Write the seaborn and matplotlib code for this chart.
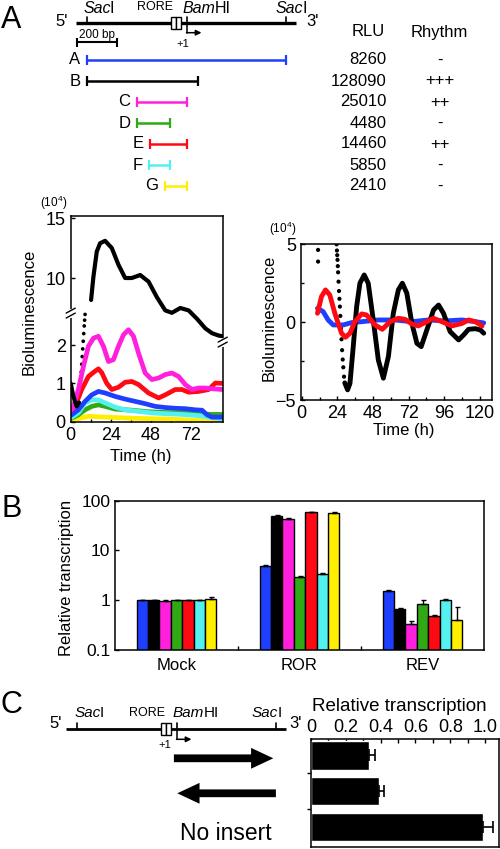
import numpy as np
import pandas as pd
import matplotlib
matplotlib.use('Agg')
import matplotlib.pyplot as plt
import seaborn as sns
from matplotlib.patches import Rectangle
from matplotlib.ticker import MultipleLocator, NullLocator, FixedLocator

sns.set_style('ticks')
plt.rcParams['font.family'] = ['Liberation Sans', 'DejaVu Sans']
plt.rcParams['mathtext.fontset'] = 'custom'
plt.rcParams['mathtext.rm'] = 'Liberation Sans'
for k in ['axes.edgecolor', 'axes.labelcolor', 'text.color', 'xtick.color', 'ytick.color']:
    plt.rcParams[k] = 'black'
plt.rcParams['xtick.direction'] = 'in'
plt.rcParams['ytick.direction'] = 'in'
plt.rcParams['axes.linewidth'] = 1.1

# ---- panel A: constructs (bp from 5' SacI site) ----
constructs = ['A', 'B', 'C', 'D', 'E', 'F', 'G']
colors = ['#1f3fff', '#000000', '#ff1fdc', '#2faa14', '#ff0a14', '#55f0f0', '#ffee00']
frag_start = [0, 0, 250, 250, 315, 310, 390]
frag_end = [995, 555, 500, 415, 500, 415, 500]
rlu = [8260, 128090, 25010, 4480, 14460, 5850, 2410]
rhythm = ['-', '+++', '++', '-', '++', '-', '-']

map_extent = [-56, 1043]
saci_sites = [0, 995]
bamhi_site = 496
rore_box = [420, 468]

# ---- panel A: raw bioluminescence (x10^4) ----
mag_t = [0, 1.6, 4.6, 7.6, 10.6, 13.6, 16.6, 19.6, 22.6, 25.6, 28.6, 31.6, 34.6, 37.6, 40.6,
         44.6, 48.6, 52.6, 56.6, 60.6, 64.6, 68.6, 72.6, 76.6, 80.6, 84.6, 91]
mag_v = [0.31, 0.4, 0.84, 1.44, 1.97, 2.18, 2.23, 1.97, 1.57, 1.62, 1.97, 2.27, 2.4, 2.23, 1.79,
         1.27, 1.1, 1.14, 1.23, 1.27, 1.18, 0.97, 0.84, 0.88, 0.88, 0.86, 0.84]
red_t = [0, 2.6, 6.6, 10.6, 14.6, 16.6, 18.6, 21.6, 24.6, 28.6, 32.6, 36.6, 40.6, 46.6, 52.6,
         56.6, 62.6, 66.6, 70.6, 76.6, 82.6, 86.6, 91]
red_v = [0.31, 0.4, 0.84, 1.18, 1.32, 1.38, 1.28, 1.0, 0.84, 0.9, 1.03, 1.05, 0.97, 0.75, 0.62,
         0.7, 0.84, 0.84, 0.77, 0.79, 0.84, 1.01, 1.0]
blue_t = [0, 4.6, 8.6, 12.6, 16.6, 20.6, 26.6, 32.6, 38.6, 44.6, 50.6, 56.6, 62.6, 68.6, 74.6,
          78.6, 81.6, 84.6, 91]
blue_v = [0.16, 0.31, 0.53, 0.7, 0.79, 0.75, 0.66, 0.59, 0.53, 0.47, 0.4, 0.37, 0.35, 0.34, 0.31,
          0.3, 0.18, 0.12, 0.12]
cyan_t = [0, 4.6, 8.6, 12.6, 16.6, 20.6, 26.6, 32.6, 40.6, 48.6, 56.6, 66.6, 76.6, 82.6, 91]
cyan_v = [0.1, 0.23, 0.49, 0.57, 0.57, 0.49, 0.38, 0.31, 0.27, 0.23, 0.21, 0.19, 0.16, 0.12, 0.07]
green_t = [0, 4.6, 8.6, 12.6, 16.6, 20.6, 26.6, 36.6, 46.6, 56.6, 66.6, 76.6, 84.6, 91]
green_v = [0.08, 0.18, 0.31, 0.4, 0.44, 0.4, 0.33, 0.3, 0.26, 0.24, 0.23, 0.21, 0.19, 0.19]
yel_t = [0, 4.6, 10.6, 20.6, 36.6, 56.6, 68.6, 76.6, 91]
yel_v = [0.03, 0.08, 0.14, 0.12, 0.09, 0.07, 0.05, 0.03, 0.03]
blk_lo_t = [0, 1.6, 3.6, 5.0]
blk_lo_v = [1.0, 0.66, 0.4, 0.5]
blk_dot_t = [5.4, 5.7, 6.0, 6.3, 6.6, 6.9, 7.2, 7.5, 7.8, 8.1, 8.35, 8.6]
blk_dot_v = [0.7, 0.9, 1.1, 1.3, 1.5, 1.7, 1.9, 2.1, 2.3, 2.5, 2.65, 2.8]
blk_hi_t = [12.2, 13.6, 15.6, 17.6, 20.6, 24.6, 28.6, 32.6, 36.6, 41.6, 46.6, 51.6, 56.6, 60.6,
            65.6, 70.6, 75.6, 80.6, 84.6, 88.6, 91]
blk_hi_v = [8.17, 10.1, 12.2, 12.9, 13.1, 12.5, 11.1, 10.0, 10.0, 10.25, 9.7, 8.4, 7.3, 7.1,
            7.5, 7.3, 6.6, 5.8, 5.4, 5.2, 5.15]

# ---- panel A: detrended bioluminescence (x10^4) ----
blk_r_t = [29.0, 30.9, 32.5, 34.7, 37.0, 39.2, 42.1, 44.8, 48.2, 51.6, 55.0, 58.4, 61.7, 65.1,
           67.8, 70.8, 74.2, 77.6, 80.5, 84.3, 88.8, 92.2, 95.5, 100.0, 105.7, 109.1, 112.4,
           117.0, 120.4, 122.6]
blk_r_v = [-3.9, -4.35, -3.93, -1.57, 1.0, 2.5, 3.03, 2.5, 0.14, -2.43, -3.6, -2.2, 0.57, 2.07,
           2.5, 1.86, -0.07, -1.36, -1.57, -0.5, 0.78, 1.1, 0.57, -0.61, -1.14, -0.82, -0.46,
           -0.42, -0.5, -0.71]
blk_rdot_t = [11.0, 11.0, 23.5, 23.7, 23.9, 24.1, 24.3, 24.5, 24.8, 25.1, 25.4, 25.7, 26.0, 26.4,
              26.8, 27.2, 27.6, 28.0, 28.5]
blk_rdot_v = [4.64, 3.89, 5.0, 4.6, 4.3, 4.0, 3.6, 3.2, 2.6, 2.0, 1.5, 1.0, 0.4, -0.4,
              -1.1, -1.8, -2.4, -2.9, -3.5]
red_r_t = [10.6, 13.3, 16.0, 18.9, 22.3, 26.8, 29.5, 32.5, 35.8, 40.4, 43.7, 49.4, 54.3, 59.5,
           65.1, 69.6, 74.2, 78.6, 84.3, 88.8, 94.4, 101.2, 108.0, 112.4, 117.0, 121.5]
red_r_v = [0.57, 1.64, 2.07, 1.75, 0.57, -0.71, -0.97, -0.71, 0.03, 0.53, 0.46, -0.18, -0.46,
           0.03, 0.25, 0.18, -0.12, -0.24, 0.03, 0.25, 0.03, -0.24, -0.08, 0.14, 0.03, -0.24]
blue_r_t = [10.6, 14.4, 17.8, 21.2, 27.9, 33.6, 40.4, 51.6, 62.9, 74.2, 85.4, 96.7, 108.0,
            117.0, 122.6]
blue_r_v = [0.89, 0.68, 0.14, -0.18, -0.18, -0.03, 0.03, 0.14, 0.14, 0.03, 0.14, 0.08, 0.14,
            0.03, -0.05]

# ---- panel B ----
conditions = ['Mock', 'ROR', 'REV']
mock_vals = [1.0, 1.0, 0.98, 1.0, 1.0, 1.0, 1.07]
ror_vals = [4.95, 49, 43.5, 2.88, 58, 3.37, 56.6]
rev_vals = [1.56, 0.68, 0.34, 0.84, 0.48, 1.0, 0.40]
mock_err = [0.02, 0.02, 0.01, 0.02, 0.01, 0.02, 0.07]
ror_err = [0.2, 2, 1, 0.25, 1.5, 0.15, 2]
rev_err = [0.03, 0.02, 0.04, 0.15, 0.03, 0.05, 0.32]

# ---- panel C ----
inserts = ['forward', 'reverse', 'No insert']
rel_tx = [0.335, 0.39, 0.99]
rel_err = [0.035, 0.032, 0.055]
fwd_arrow = [483, 980]
rev_arrow = [993, 500]

W, H = 500, 849
fig = plt.figure(figsize=(W / 100, H / 100), dpi=100)


def add_ax(l, t, r, b):
    return fig.add_axes([l / W, 1 - b / H, (r - l) / W, (b - t) / H])


def site_label(ax, x, y, ital, rest, size=11.5):
    # italic enzyme prefix followed by upright suffix
    t = ax.text(x, y, ital, ha='left', va='bottom', fontsize=size, fontstyle='italic')
    ax.annotate(rest, xy=(1, 0), xycoords=t, xytext=(-0.5, 0), textcoords='offset points',
                ha='left', va='bottom', fontsize=size)


def draw_map(ax, y, lw):
    ax.plot(map_extent, [y, y], color='black', lw=lw, solid_capstyle='butt')
    for s in saci_sites:
        ax.plot([s, s], [y, y - 6], color='black', lw=1.2)
    ax.plot([bamhi_site, bamhi_site], [y, y - 6], color='black', lw=1.2)
    half = (rore_box[1] - rore_box[0]) / 2
    for k in range(2):
        ax.add_patch(Rectangle((rore_box[0] + k * half, y - 6), half, 12, fc='white',
                               ec='black', lw=1, zorder=3))
    ax.plot([bamhi_site, bamhi_site], [y, y + 10], color='black', lw=1.1)
    ax.annotate('', xy=(bamhi_site + 75, y + 10), xytext=(bamhi_site, y + 10),
                arrowprops=dict(arrowstyle='-|>', lw=1.1, color='black', mutation_scale=8,
                                shrinkA=0, shrinkB=0))


# ===== panel A diagram =====
axA = add_ax(0, 0, 500, 200)
axA.set_xlim((0 - 87.3) * 5, (500 - 87.3) * 5)
axA.set_ylim(200, 0)
axA.axis('off')
draw_map(axA, 22.7, 2.4)
axA.text(-127, 21.7, "5'", ha='center', va='center', fontsize=12)
axA.text(1128, 21.7, "3'", ha='center', va='center', fontsize=12)
site_label(axA, -21, 16, 'Sac', 'I')
site_label(axA, 943, 16, 'Sac', 'I')
site_label(axA, 478, 16, 'Bam', 'HI')
axA.text(338, 6.5, 'RORE', ha='center', va='center', fontsize=9)
axA.text(477, 44.3, '+1', ha='center', va='center', fontsize=8)
axA.hlines(42.3, -50, 150, color='black', lw=1.5)
axA.vlines([-50, 150], 37.8, 46.8, color='black', lw=1.5)
axA.text(50, 35, '200 bp', ha='center', va='center', fontsize=8.5)
axA.text(1403, 32, 'RLU', ha='center', va='center', fontsize=12)
axA.text(1761, 32, 'Rhythm', ha='center', va='center', fontsize=12)
for i, name in enumerate(constructs):
    y = 60 + 21 * i
    axA.hlines(y, frag_start[i], frag_end[i], color=colors[i], lw=1.8)
    axA.vlines([frag_start[i], frag_end[i]], y - 5, y + 5, color=colors[i], lw=1.6)
    axA.text(frag_start[i] - 35, y, name, ha='right', va='center', fontsize=12)
    axA.text(1497, y, str(rlu[i]), ha='right', va='center', fontsize=12)
    axA.text(1761, y, rhythm[i], ha='center', va='center', fontsize=12)

# ===== panel A raw traces =====
ax_lo = add_ax(70.7, 216, 222.7, 421.7)
ax_hi = add_ax(70.7, 216, 222.7, 421.7)
lo_series = [(yel_t, yel_v, colors[6]), (green_t, green_v, colors[3]), (cyan_t, cyan_v, colors[5]),
             (blue_t, blue_v, colors[0]), (red_t, red_v, colors[4]), (mag_t, mag_v, colors[2])]
for t, v, c in lo_series:
    sns.lineplot(x=t, y=v, color=c, lw=3.4, ax=ax_lo, estimator=None)
sns.lineplot(x=blk_lo_t, y=blk_lo_v, color='black', lw=3.0, ax=ax_lo, estimator=None)
sns.scatterplot(x=blk_dot_t, y=blk_dot_v, color='black', s=7, edgecolor='none', ax=ax_lo)
ax_lo.set_xlim(0, 91)
ax_lo.set_ylim(0, 5.37)
ax_lo.set_yticks([0, 1, 2])
ax_lo.set_xticks([0, 24, 48, 72])
ax_lo.xaxis.set_minor_locator(FixedLocator([12, 36, 60, 84]))
ax_lo.tick_params(labelsize=13, length=3, width=1)
ax_lo.tick_params(which='minor', length=2, width=1)
ax_lo.set_xlabel('Time (h)', fontsize=12)
ax_lo.set_ylabel('Bioluminescence', fontsize=12)
ax_lo.xaxis.set_label_coords(0.461, -0.135)
ax_lo.yaxis.set_label_coords(-0.222, 0.535)

sns.lineplot(x=blk_hi_t, y=blk_hi_v, color='black', lw=3.0, ax=ax_hi, estimator=None)
ax_hi.set_xlim(0, 91)
ax_hi.set_ylim(-1.98, 15.17)
ax_hi.set_yticks([10, 15])
ax_hi.tick_params(labelsize=13, length=3, width=1)
ax_hi.set_frame_on(False)
ax_hi.patch.set_visible(False)
ax_hi.xaxis.set_visible(False)
ax_hi.set_ylabel('')
ax_hi.set_xlabel('')


def break_mark(ax, x, y):
    g, dx, dy = 0.012, 0.03, 0.012
    ax.plot([x, x], [y - g, y + g], transform=ax.transAxes, color='white', lw=3,
            clip_on=False, zorder=10)
    for yy in (y - g, y + g):
        ax.plot([x - dx, x + dx], [yy - dy, yy + dy], transform=ax.transAxes, color='black',
                lw=1, clip_on=False, zorder=11)


break_mark(ax_lo, 0, 0.528)
break_mark(ax_lo, 1, 0.387)
fig.text(53.5 / W, 1 - 203 / H, '(10$^4$)', ha='center', va='center', fontsize=8.5)

# ===== panel A detrended traces =====
ax_r = add_ax(300.7, 244.3, 491.7, 400)
sns.lineplot(x=blue_r_t, y=blue_r_v, color=colors[0], lw=3.5, ax=ax_r, estimator=None)
sns.lineplot(x=blk_r_t, y=blk_r_v, color='black', lw=3.5, ax=ax_r, estimator=None)
sns.scatterplot(x=blk_rdot_t, y=blk_rdot_v, color='black', s=9, edgecolor='none', ax=ax_r)
sns.lineplot(x=red_r_t, y=red_r_v, color=colors[4], lw=3.5, ax=ax_r, estimator=None)
ax_r.set_xlim(-0.7, 128)
ax_r.set_ylim(-5, 5)
ax_r.set_yticks([-5, 0, 5])
ax_r.set_xticks([0, 24, 48, 72, 96, 120])
ax_r.xaxis.set_minor_locator(FixedLocator([12, 36, 60, 84, 108]))
ax_r.yaxis.set_minor_locator(FixedLocator([-2.5, 2.5]))
ax_r.tick_params(labelsize=13, length=3, width=1)
ax_r.tick_params(which='minor', length=2, width=1)
ax_r.set_xlabel('Time (h)', fontsize=12)
ax_r.set_ylabel('Bioluminescence', fontsize=12)
ax_r.xaxis.set_label_coords(0.54, -0.145)
ax_r.yaxis.set_label_coords(-0.124, 0.527)
fig.text(283 / W, 1 - 229 / H, '(10$^4$)', ha='center', va='center', fontsize=8.5)

# ===== panel B =====
dfB = pd.DataFrame({
    'condition': np.repeat(conditions, len(constructs)),
    'construct': constructs * len(conditions),
    'value': mock_vals + ror_vals + rev_vals,
    'err': mock_err + ror_err + rev_err,
})
axB = add_ax(115, 500.7, 484, 650)
sns.barplot(data=dfB, x='condition', y='value', hue='construct', order=conditions,
            hue_order=constructs, palette=colors, saturation=1, width=0.65, gap=0,
            edgecolor='black', linewidth=1, errorbar=None, legend=False, ax=axB)
axB.set_yscale('log')
axB.set_ylim(0.1, 100)
bars = sorted(axB.patches, key=lambda p: p.get_x())
bx = [p.get_x() + p.get_width() / 2 for p in bars]
bh = [p.get_height() for p in bars]
axB.errorbar(bx, bh, yerr=[np.zeros(len(bh)), dfB['err'].values], fmt='none',
             ecolor='black', elinewidth=1, capsize=1.8, capthick=1)
axB.set_yticks([0.1, 1, 10, 100])
axB.set_yticklabels(['0.1', '1', '10', '100'])
axB.yaxis.set_minor_locator(NullLocator())
axB.xaxis.set_minor_locator(FixedLocator([0.5, 1.5]))
axB.tick_params(axis='x', which='major', length=0, labelsize=12, pad=6)
axB.tick_params(axis='x', which='minor', length=3, width=1)
axB.tick_params(axis='y', labelsize=12.5, length=3, width=1)
axB.set_xlim(-0.5, 2.5)
axB.set_xlabel('')
axB.set_ylabel('Relative transcription', fontsize=12)
axB.yaxis.set_label_coords(-0.112, 0.482)

# ===== panel C map =====
axCm = add_ax(0, 680, 310, 849)
axCm.set_xlim((0 - 77.3) * 5, (310 - 77.3) * 5)
axCm.set_ylim(849, 680)
axCm.axis('off')
draw_map(axCm, 729.3, 2.0)
axCm.text(-111, 723, "5'", ha='center', va='center', fontsize=12)
axCm.text(1093, 723, "3'", ha='center', va='center', fontsize=12)
site_label(axCm, -16, 720, 'Sac', 'I', 11)
site_label(axCm, 872, 720, 'Sac', 'I', 11)
site_label(axCm, 477, 720, 'Bam', 'HI', 11)
axCm.text(347, 713, 'RORE', ha='center', va='center', fontsize=9)
axCm.text(438, 745, '+1', ha='center', va='center', fontsize=8)
arrow_style = 'simple,head_length=0.8,head_width=0.75,tail_width=0.28'
for (x0, x1), y in [(fwd_arrow, 758.3), (rev_arrow, 793.3)]:
    axCm.annotate('', xy=(x1, y), xytext=(x0, y),
                  arrowprops=dict(arrowstyle=arrow_style, color='black', mutation_scale=20,
                                  shrinkA=0, shrinkB=0, lw=0))
axCm.text(742, 833, 'No insert', ha='center', va='center', fontsize=16.5)

# ===== panel C bars =====
axC = add_ax(311, 739, 499, 846.7)
sns.barplot(x=rel_tx, y=inserts, orient='h', color='black', saturation=1, width=0.8,
            errorbar=None, ax=axC)
cb = axC.patches
cy = [p.get_y() + p.get_height() / 2 for p in cb]
cw = [p.get_width() for p in cb]
axC.errorbar(cw, cy, xerr=[np.zeros(len(cw)), rel_err], fmt='none', ecolor='black',
             elinewidth=1.2, capsize=4.3, capthick=1.2)
axC.set_xlim(0, 1.08)
axC.set_ylim(2.55, -0.45)
axC.xaxis.tick_top()
axC.xaxis.set_label_position('top')
axC.set_xticks([0, 0.2, 0.4, 0.6, 0.8, 1.0])
axC.set_xticklabels(['0', '0.2', '0.4', '0.6', '0.8', '1.0'])
axC.xaxis.set_minor_locator(MultipleLocator(0.1))
axC.tick_params(axis='x', which='both', labelsize=13, length=3, width=1, pad=2)
axC.set_yticks([])
axC.yaxis.set_minor_locator(FixedLocator([0.5, 1.5]))
axC.tick_params(axis='y', which='minor', direction='out', length=3, width=1)
axC.set_xlabel('Relative transcription', fontsize=13.5)
axC.xaxis.set_label_coords(0.468, 1.26)
axC.set_ylabel('')

# panel letters
fig.text(1 / W, 1 - 28 / H, 'A', ha='left', va='baseline', fontsize=22)
fig.text(1 / W, 1 - 517 / H, 'B', ha='left', va='baseline', fontsize=22)
fig.text(1 / W, 1 - 713 / H, 'C', ha='left', va='baseline', fontsize=22)

fig.savefig('out.png', dpi=100)
